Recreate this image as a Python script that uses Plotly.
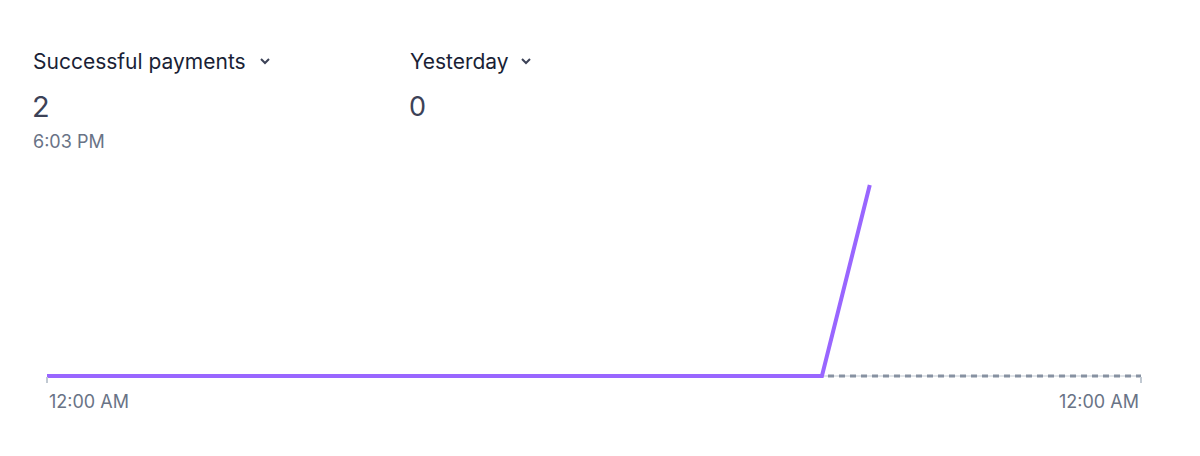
import plotly.graph_objects as go

# Data (hours since midnight)
today_hours = [0, 1, 2, 3, 4, 5, 6, 7, 8, 9, 10, 11, 12, 13, 14, 15, 16, 17, 18.05]
today_values = [0, 0, 0, 0, 0, 0, 0, 0, 0, 0, 0, 0, 0, 0, 0, 0, 0, 0, 2]
yesterday_hours = [0, 1, 2, 3, 4, 5, 6, 7, 8, 9, 10, 11, 12, 13, 14, 15, 16, 17, 18, 19, 20, 21, 22, 23, 24]
yesterday_values = [0] * 25
tick_labels = ["12:00 AM", "12:00 AM"]
metric_title = "Successful payments"
metric_value = "2"
metric_time = "6:03 PM"
compare_title = "Yesterday"
compare_value = "0"

OFF = 8  # page body margin
W, H = 1200 - OFF, 456 - OFF
# target pixel positions in the window
L_PX, R_PX, T_PX, B_PX = 47, 1141, 166, 390
ZERO_PX = 376
ML, MT = L_PX - OFF, T_PX - OFF
MR = W - (R_PX - OFF)
MB = H - (B_PX - OFF)
PW, PH = R_PX - L_PX, B_PX - T_PX
UNIT = (ZERO_PX - T_PX) / 2.2  # px per unit, top of range 2.2
Y_MIN = -(B_PX - ZERO_PX) / UNIT

def px(x):
    return (x - L_PX) / PW

def py(y):
    return (B_PX - y) / PH

FONT = "Inter, Noto Sans, sans-serif"
DARK = "#1a1f36"
MID = "#3c4257"
GREY = "#697386"

fig = go.Figure()
fig.add_trace(go.Scatter(x=yesterday_hours, y=yesterday_values, mode="lines",
                         line=dict(color="#c1c9d2", width=1),
                         hoverinfo="skip", showlegend=False))
fig.add_trace(go.Scatter(x=yesterday_hours, y=yesterday_values, mode="lines",
                         line=dict(color="#8792a2", width=3, dash="6px,5px"),
                         hoverinfo="skip", showlegend=False))
fig.add_trace(go.Scatter(x=today_hours, y=today_values, mode="lines",
                         line=dict(color="#9966ff", width=4),
                         hoverinfo="skip", showlegend=False))

annos = [
    dict(text=metric_title, x=px(31), y=py(61), size=21, color=DARK),
    dict(text=metric_value, x=px(30), y=py(106), size=29, color=MID),
    dict(text=metric_time, x=px(31), y=py(141), size=18, color=GREY),
    dict(text=compare_title, x=px(408), y=py(61), size=21, color=DARK),
    dict(text=compare_value, x=px(407), y=py(107), size=27, color=MID),
]
for a in annos:
    fig.add_annotation(text=a["text"], xref="paper", yref="paper", x=a["x"], y=a["y"],
                       xanchor="left", yanchor="middle", showarrow=False,
                       font=dict(family=FONT, size=a["size"], color=a["color"]))

# chevrons
for cx in (265, 526):
    fig.add_shape(type="path", xref="paper", yref="paper",
                  path=f"M {px(cx-4)} {py(59)} L {px(cx)} {py(63)} L {px(cx+4)} {py(59)}",
                  line=dict(color=MID, width=2))

# axis tick labels
fig.add_annotation(text=tick_labels[0], xref="x", yref="paper", x=yesterday_hours[0], y=py(401),
                   xanchor="left", yanchor="middle", showarrow=False,
                   font=dict(family=FONT, size=18, color=GREY))
fig.add_annotation(text=tick_labels[1], xref="x", yref="paper", x=yesterday_hours[-1], y=py(401),
                   xanchor="right", yanchor="middle", showarrow=False,
                   font=dict(family=FONT, size=18, color=GREY))

fig.update_layout(
    width=W, height=H,
    margin=dict(l=ML, r=MR, t=MT, b=MB),
    plot_bgcolor="white", paper_bgcolor="white",
    xaxis=dict(range=[0, 24], showgrid=False, zeroline=False, showticklabels=False,
               ticks="outside", ticklen=6, tickcolor="#c1c9d2", tickwidth=1.5,
               tickvals=[0, 24], showline=False, fixedrange=True,
               anchor="free", position=py(ZERO_PX)),
    yaxis=dict(range=[Y_MIN, 2.2], showgrid=False, zeroline=False, showticklabels=False,
               showline=False, fixedrange=True),
    showlegend=False,
)

fig.write_html("out.html")
